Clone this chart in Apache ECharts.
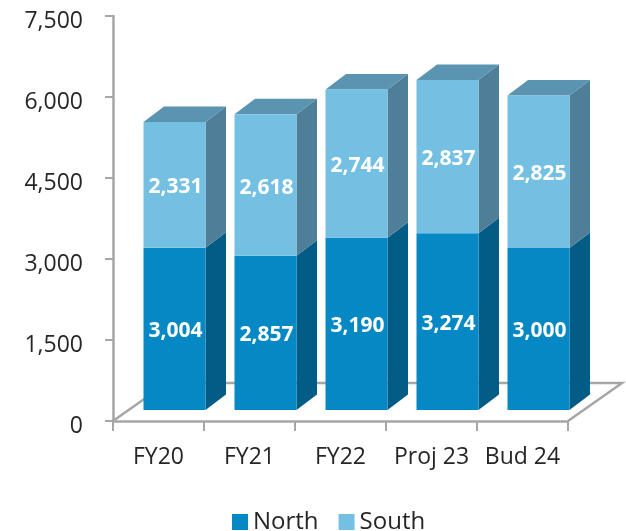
<!DOCTYPE html>
<html>
<head>
<meta charset="utf-8">
<style>
  html, body { margin: 0; padding: 0; background: #fff; }
  #main { width: 626px; height: 531px; }
</style>
<script src="https://cdn.jsdelivr.net/npm/echarts@6/dist/echarts.min.js"></script>
</head>
<body>
<div id="main"></div>
<script>
var categories = ['FY20', 'FY21', 'FY22', 'Proj 23', 'Bud 24'];
var northValues = [3004, 2857, 3190, 3274, 3000];
var southValues = [2331, 2618, 2744, 2837, 2825];

var fontName = '"Open Sans", sans-serif';
var axisGrey = '#a6a6a6';

// fake 3D: the front face sits a bit behind the axis plane
var frontDx = 16, frontDy = -11;
var sideDx = 20.5, sideDy = -15.5;
var floorDx = 54, floorDy = -38;
var barWidth = 62;

var colors = {
  North: { front: '#0588c3', side: '#035c85', top: '#035c85' },
  South: { front: '#74c0e2', side: '#4e7e98', top: '#5a94b0' }
};

function numberText(v) {
  return echarts.format.addCommas(v);
}

function barItem(name, drawTop) {
  return function (params, api) {
    var i = api.value(0);
    var low = api.coord([i, api.value(1)]);
    var high = api.coord([i, api.value(2)]);
    var c = colors[name];
    var x0 = low[0] - barWidth / 2 + frontDx;
    var x1 = x0 + barWidth;
    var y0 = low[1] + frontDy;
    var y1 = high[1] + frontDy;
    var children = [
      {
        type: 'polygon',
        shape: { points: [[x1, y0], [x1 + sideDx, y0 + sideDy], [x1 + sideDx, y1 + sideDy], [x1, y1]] },
        style: { fill: c.side }
      },
      {
        type: 'rect',
        shape: { x: x0, y: y1, width: barWidth, height: y0 - y1 },
        style: { fill: c.front }
      },
      {
        type: 'text',
        style: {
          x: (x0 + x1) / 2 + 1,
          y: (y0 + y1) / 2 + 2.5,
          text: numberText(api.value(3)),
          fill: '#fff',
          font: 'bold 21px ' + fontName,
          align: 'center',
          verticalAlign: 'middle'
        }
      }
    ];
    if (drawTop) {
      children.splice(1, 0, {
        type: 'polygon',
        shape: { points: [[x0, y1], [x0 + sideDx, y1 + sideDy], [x1 + sideDx, y1 + sideDy], [x1, y1]] },
        style: { fill: c.top }
      });
    }
    return { type: 'group', children: children };
  };
}

function floorItem(params, api) {
  var g = params.coordSys;
  var bottom = g.y + g.height;
  var right = g.x + g.width;
  return {
    type: 'polyline',
    shape: {
      points: [
        [g.x, bottom],
        [g.x + floorDx, bottom + floorDy],
        [right + floorDx, bottom + floorDy],
        [right, bottom]
      ]
    },
    style: { fill: null, stroke: axisGrey, lineWidth: 2.5 }
  };
}

var northData = categories.map(function (c, i) {
  return [i, 0, northValues[i], northValues[i]];
});
var southData = categories.map(function (c, i) {
  return [i, northValues[i], northValues[i] + southValues[i], southValues[i]];
});

var chart = echarts.init(document.getElementById('main'), null, { renderer: 'canvas' });
chart.setOption({
  backgroundColor: '#fff',
  animation: false,
  grid: { left: 113, top: 16, width: 455, height: 405, containLabel: false },
  legend: {
    data: [
      { name: 'North', icon: 'rect', itemStyle: { color: colors.North.front } },
      { name: 'South', icon: 'rect', itemStyle: { color: colors.South.front } }
    ],
    left: 232,
    top: 510,
    padding: 0,
    itemWidth: 16,
    itemHeight: 16,
    itemGap: 20,
    textStyle: { fontFamily: fontName, fontSize: 24, color: '#262626' }
  },
  xAxis: {
    type: 'category',
    data: categories,
    axisLine: { lineStyle: { color: axisGrey, width: 2.5 } },
    axisTick: { show: true, length: 10, alignWithLabel: false, lineStyle: { color: axisGrey, width: 2 } },
    axisLabel: { fontFamily: fontName, fontSize: 23, color: '#262626', margin: 25, interval: 0 }
  },
  yAxis: {
    type: 'value',
    min: 0,
    max: 7500,
    interval: 1500,
    splitLine: { show: false },
    axisLine: { show: true, lineStyle: { color: axisGrey, width: 2.5 } },
    axisTick: { show: true, length: 8, lineStyle: { color: axisGrey, width: 2 } },
    axisLabel: {
      fontFamily: fontName,
      fontSize: 23,
      color: '#262626',
      margin: 30,
      verticalAlign: 'top',
      lineHeight: 10,
      formatter: function (v) { return numberText(v); }
    }
  },
  series: [
    {
      type: 'custom',
      name: 'floor',
      coordinateSystem: 'cartesian2d',
      renderItem: floorItem,
      data: [[0, 0]],
      encode: { x: 0, y: 1 },
      silent: true,
      z: 1
    },
    {
      type: 'custom',
      name: 'North',
      coordinateSystem: 'cartesian2d',
      renderItem: barItem('North', false),
      data: northData,
      encode: { x: 0, y: [1, 2] },
      itemStyle: { color: colors.North.front },
      z: 2
    },
    {
      type: 'custom',
      name: 'South',
      coordinateSystem: 'cartesian2d',
      renderItem: barItem('South', true),
      data: southData,
      encode: { x: 0, y: [1, 2] },
      itemStyle: { color: colors.South.front },
      z: 3
    }
  ]
});
</script>
</body>
</html>
